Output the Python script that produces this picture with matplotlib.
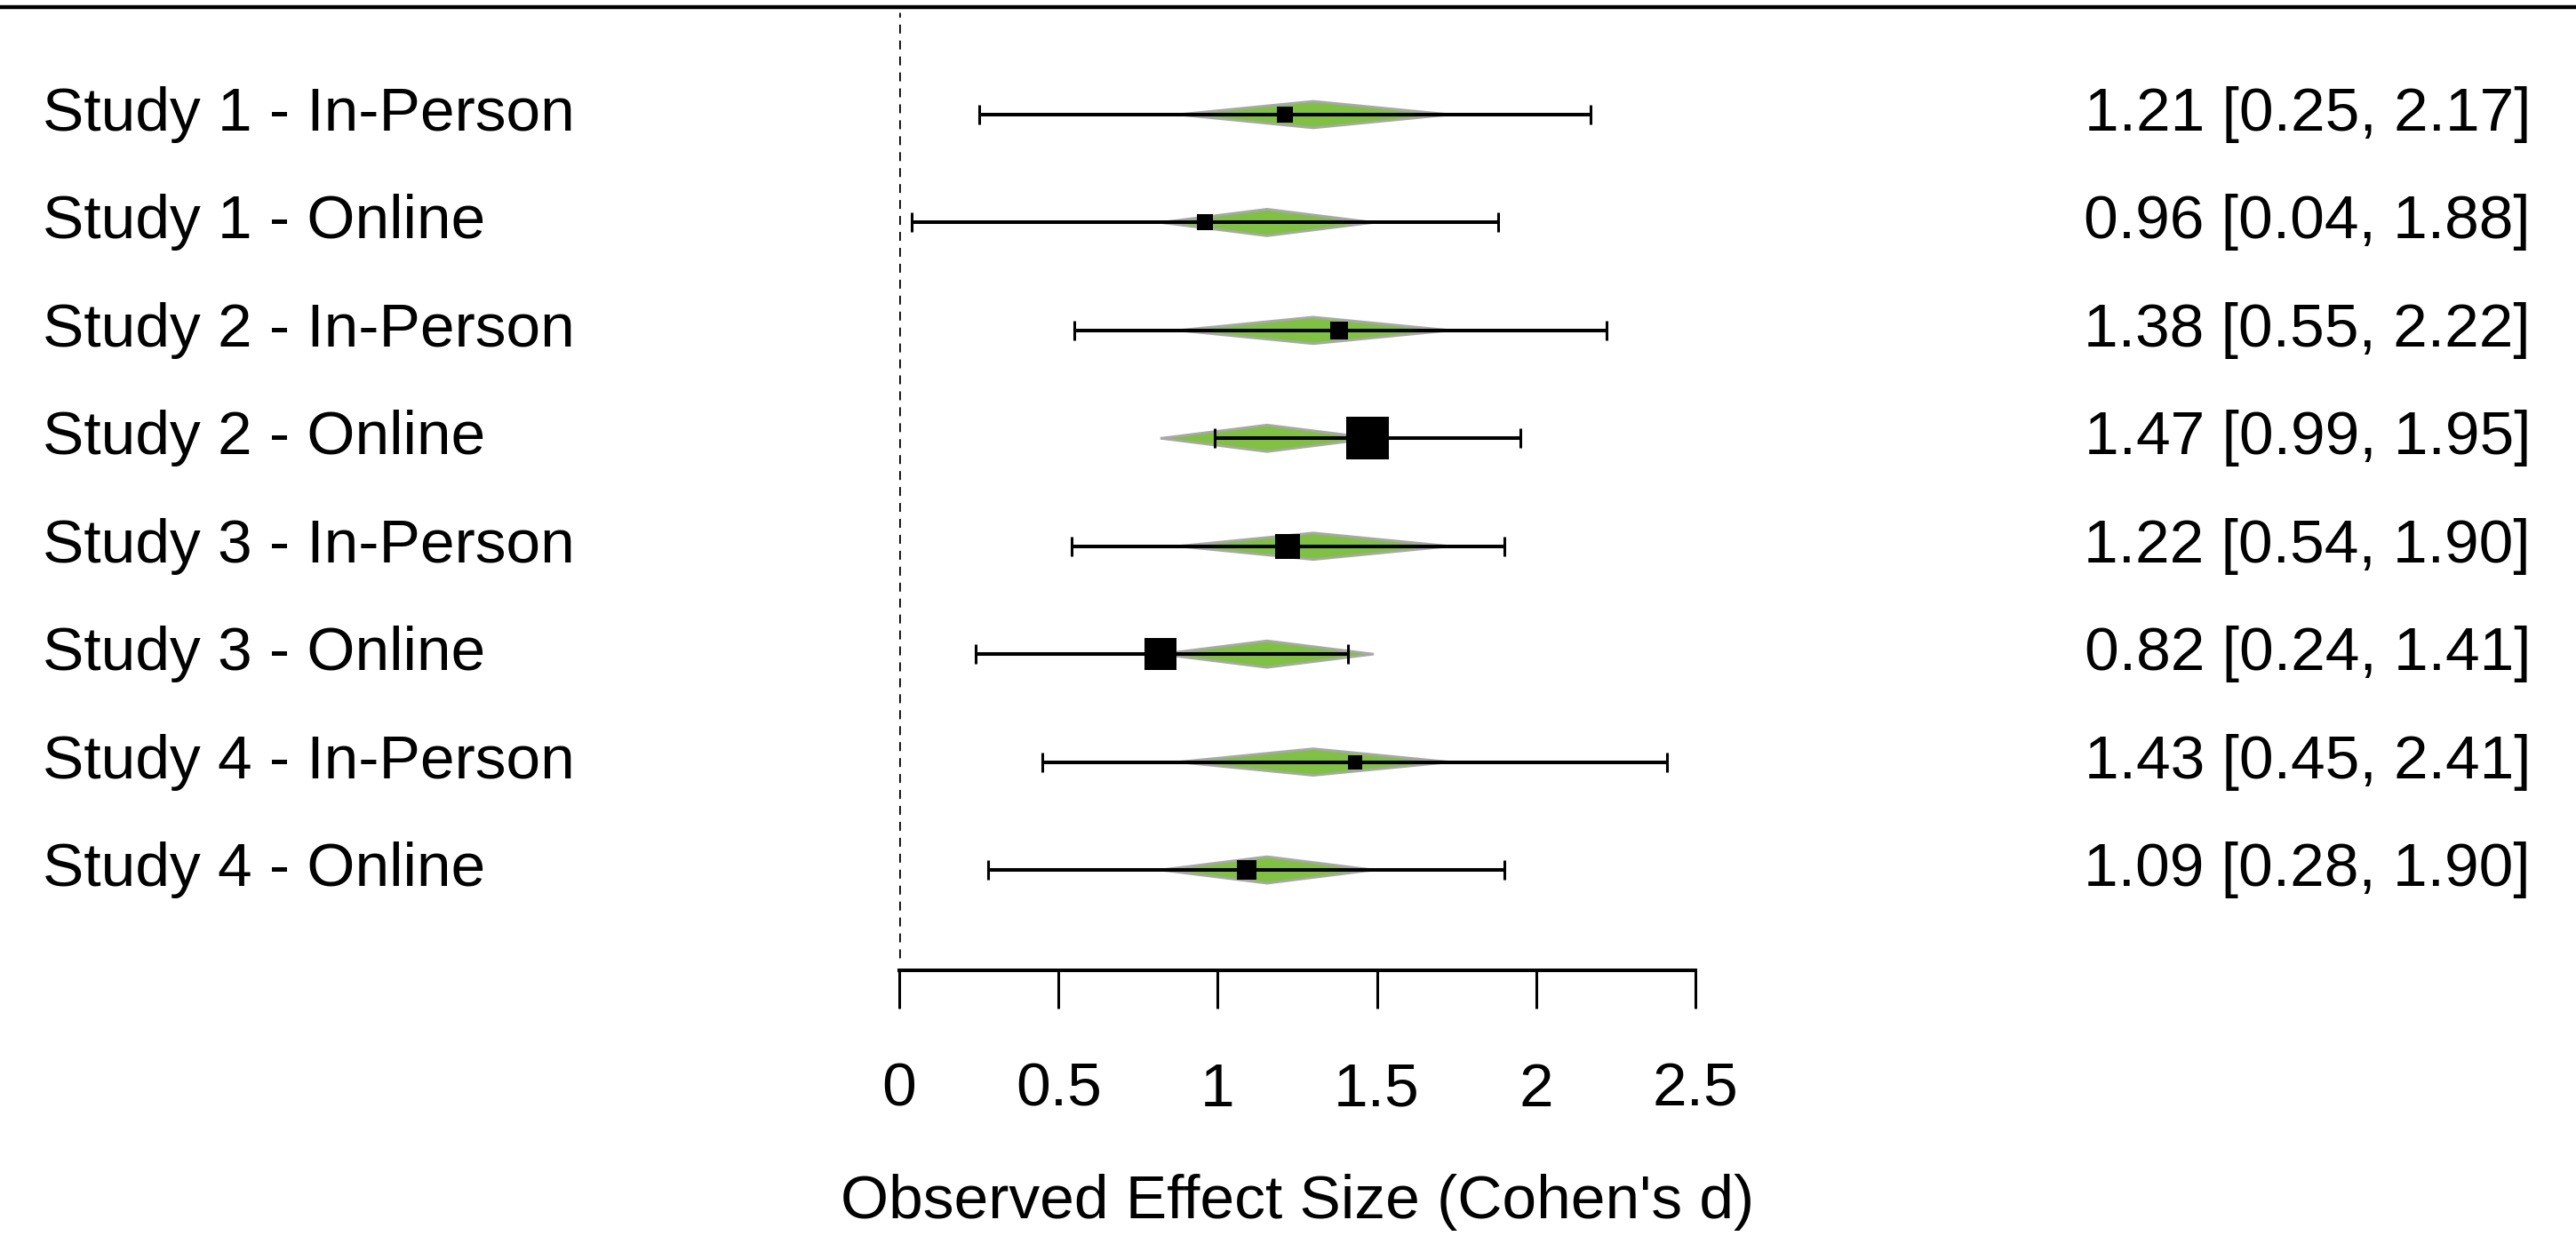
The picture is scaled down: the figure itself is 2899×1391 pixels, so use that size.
import numpy as np
import matplotlib
matplotlib.use('Agg')
import matplotlib.pyplot as plt
from matplotlib.patches import Polygon
from matplotlib.lines import Line2D
from matplotlib.transforms import blended_transform_factory

plt.rcParams['font.family'] = ['Liberation Sans', 'DejaVu Sans']

# observed effects per study (Cohen's d, 95% CI)
labels = ['Study 1 - In-Person', 'Study 1 - Online',
          'Study 2 - In-Person', 'Study 2 - Online',
          'Study 3 - In-Person', 'Study 3 - Online',
          'Study 4 - In-Person', 'Study 4 - Online']
est = [1.21, 0.96, 1.38, 1.47, 1.22, 0.82, 1.43, 1.09]
ci_lo = [0.25, 0.04, 0.55, 0.99, 0.54, 0.24, 0.45, 0.28]
ci_hi = [2.17, 1.88, 2.22, 1.95, 1.90, 1.41, 2.41, 1.90]

# estimated effect per modality (diamonds)
group = [0, 1, 0, 1, 0, 1, 0, 1]   # 0 = In-Person, 1 = Online
grp_mid = [1.30, 1.155]
grp_lo = [0.875, 0.82]
grp_hi = [1.73, 1.49]

xticks = [0, 0.5, 1, 1.5, 2, 2.5]
xticklabels = ['0', '0.5', '1', '1.5', '2', '2.5']

W, H = 2899, 1391
fig = plt.figure(figsize=(W / 100, H / 100), dpi=100)
ax = fig.add_axes([1012 / W, 1 - 1092 / H, 896 / W, (1092 - 7.5) / H])
ax.set_xlim(0, 2.5)
ax.set_ylim(0.07, 9.0)

n = len(labels)
ys = np.arange(n, 0, -1)   # first study at top

# weights from CI width -> square size
se = (np.array(ci_hi) - np.array(ci_lo)) / 3.92
w = 1 / se ** 2
sq = 11.9 * (w / w.min()) ** 0.735   # points

fs = 50
h = 0.1235
tr = blended_transform_factory(fig.transFigure, ax.transData)
for i in range(n):
    y = ys[i]
    g = group[i]
    d = Polygon([[grp_lo[g], y], [grp_mid[g], y + h], [grp_hi[g], y], [grp_mid[g], y - h]],
                closed=True, facecolor='#7fc241', edgecolor='#a8a8a8', linewidth=2.0, zorder=2)
    ax.add_patch(d)
    ax.plot([ci_lo[i], ci_hi[i]], [y, y], color='black', lw=2.9, zorder=3, solid_capstyle='butt')
    ax.vlines([ci_lo[i], ci_hi[i]], y - 0.09, y + 0.09, color='black', lw=2.2, zorder=3)
    ax.plot(est[i], y, marker='s', markersize=sq[i], color='black', markeredgewidth=0, zorder=4)

    ax.text(48 / W, y - 0.148, labels[i], transform=tr, ha='left', va='baseline', fontsize=fs)
    txt = '%.2f [%.2f, %.2f]' % (est[i], ci_lo[i], ci_hi[i])
    ax.text(2848 / W, y - 0.148, txt, transform=tr, ha='right', va='baseline', fontsize=fs)

ax.vlines(0, 0.185, 8.95, color='black', lw=1.9, linestyles=(0, (3.8, 3.0)), zorder=1)

for s in ['top', 'right', 'left']:
    ax.spines[s].set_visible(False)
ax.spines['bottom'].set_bounds(0, 2.5)
ax.spines['bottom'].set_linewidth(2.9)
ax.set_yticks([])
ax.set_xticks(xticks)
ax.set_xticklabels(xticklabels, fontsize=fs)
ax.tick_params(axis='x', direction='out', length=31, width=2.2, pad=43)

fig.text(1460 / W, 1 - 1371 / H, "Observed Effect Size (Cohen's d)", ha='center', va='baseline', fontsize=fs)

# line across the top
fig.add_artist(Line2D([0, 1], [1 - 7.5 / H, 1 - 7.5 / H], color='black', lw=3.2, transform=fig.transFigure))

fig.savefig('out.png', dpi=100)
